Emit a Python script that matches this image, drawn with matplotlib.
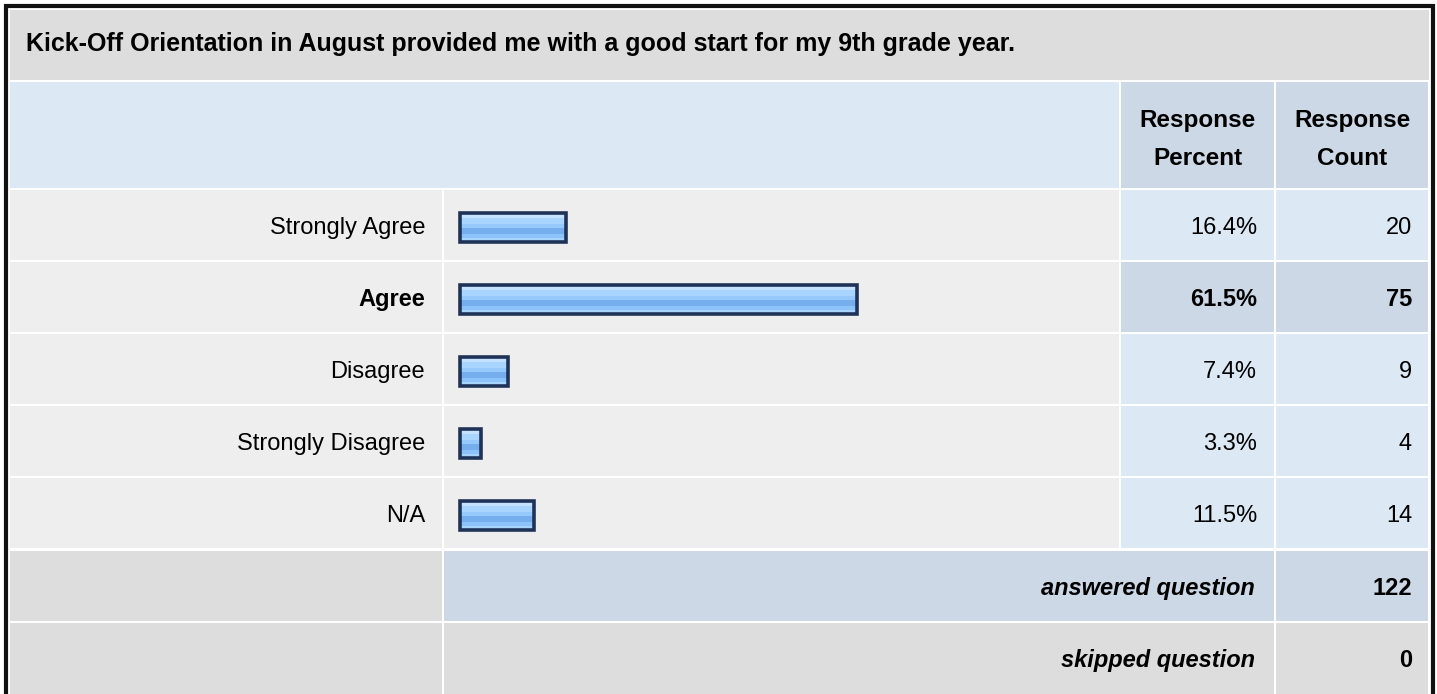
import matplotlib.pyplot as plt
from matplotlib.patches import Rectangle

# survey answers
answers = ['Strongly Agree', 'Agree', 'Disagree', 'Strongly Disagree', 'N/A']
percents = [16.4, 61.5, 7.4, 3.3, 11.5]
counts = [20, 75, 9, 4, 14]
highlight = 'Agree'
answered = 122
skipped = 0
title = 'Kick-Off Orientation in August provided me with a good start for my 9th grade year.'

plt.rcParams['font.family'] = ['Liberation Sans', 'DejaVu Sans']

GRAY = '#dddddd'
LIGHT = '#eeeeee'
BLUE = '#dde8f5'
DARK = '#ccd8e6'
FS = 17

fig = plt.figure(figsize=(14.37, 6.94), dpi=100)
ax = fig.add_axes([0, 0, 1, 1])
ax.set_xlim(0, 1437)
ax.set_ylim(694, 0)
ax.axis('off')


def cell(x0, x1, y0, y1, color):
    ax.add_patch(Rectangle((x0, y0), x1 - x0, y1 - y0, facecolor=color, edgecolor='none'))


# column edges
c0, c1, c2, c3, c4 = 10, 442, 1119, 1274, 1428
g = 2

# outer frame
ax.add_patch(Rectangle((5.5, 5.5), 1427, 700, facecolor='white', edgecolor='#111111', lw=3, zorder=0))

# title row
cell(c0, c4 + 1, 10, 80, GRAY)
ax.text(26, 51, title, fontsize=18, fontweight='bold', va='baseline', ha='left')

# header row
cell(c0, c2, 82, 188, BLUE)
cell(c2 + g, c3, 82, 188, DARK)
cell(c3 + g, c4, 82, 188, DARK)
for xc, (l1, l2) in [((c2 + g + c3) / 2, ('Response', 'Percent')),
                     ((c3 + g + c4) / 2, ('Response', 'Count'))]:
    ax.text(xc, 127, l1, fontsize=17.5, fontweight='bold', ha='center', va='baseline')
    ax.text(xc, 165, l2, fontsize=17.5, fontweight='bold', ha='center', va='baseline')

# answer rows
top = 190
pitch = 72
rh = 70
scale = 6.45
bar_x = 460
bar_h = 29
bands = [(0.00, 0.18, '#c4e1ff'), (0.18, 0.40, '#a9d4ff'), (0.40, 0.55, '#96c9fc'),
         (0.55, 0.75, '#76aeed'), (0.75, 0.88, '#8cc3fb'), (0.88, 1.00, '#a8d3ff')]

for i, (name, pct, cnt) in enumerate(zip(answers, percents, counts)):
    y0 = top + i * pitch
    yc = y0 + rh / 2
    hl = name == highlight
    cell(c0, c1, y0, y0 + rh, LIGHT)
    cell(c1 + g, c2, y0, y0 + rh, LIGHT)
    cell(c2 + g, c3, y0, y0 + rh, DARK if hl else BLUE)
    cell(c3 + g, c4, y0, y0 + rh, DARK if hl else BLUE)
    fw = 'bold' if hl else 'normal'
    ax.text(c1 - 17, yc + 9, name, fontsize=FS, fontweight=fw, ha='right', va='baseline')
    ax.text(c3 - 17, yc + 9, f'{pct:.1f}%', fontsize=FS, fontweight=fw, ha='right', va='baseline')
    ax.text(c4 - 16, yc + 9, str(cnt), fontsize=FS, fontweight=fw, ha='right', va='baseline')

    w = pct * scale
    by = yc + 2
    for f0, f1, col in bands:
        ax.barh(by - bar_h / 2 + (f0 + f1) / 2 * bar_h, w, left=bar_x,
                height=(f1 - f0) * bar_h, color=col, edgecolor='none')
    ax.barh(by, w, left=bar_x, height=bar_h, fill=False, edgecolor='#1f3357', lw=2.6)

# footer rows
y0 = top + len(answers) * pitch + 1
cell(c0, c1, y0, y0 + rh, GRAY)
cell(c1 + g, c3, y0, y0 + rh, DARK)
cell(c3 + g, c4, y0, y0 + rh, DARK)
ax.text(c3 - 19, y0 + rh / 2 + 9, 'answered question', fontsize=FS, fontweight='bold',
        fontstyle='italic', ha='right', va='baseline')
ax.text(c4 - 16, y0 + rh / 2 + 9, str(answered), fontsize=FS, fontweight='bold', ha='right', va='baseline')

y0 += pitch
cell(c0, c1, y0, 694, GRAY)
cell(c1 + g, c3, y0, 694, GRAY)
cell(c3 + g, c4, y0, 694, GRAY)
ax.text(c3 - 19, y0 + rh / 2 + 9, 'skipped question', fontsize=FS, fontweight='bold',
        fontstyle='italic', ha='right', va='baseline')
ax.text(c4 - 16, y0 + rh / 2 + 9, str(skipped), fontsize=FS, fontweight='bold', ha='right', va='baseline')

fig.savefig('out.png', dpi=100)
